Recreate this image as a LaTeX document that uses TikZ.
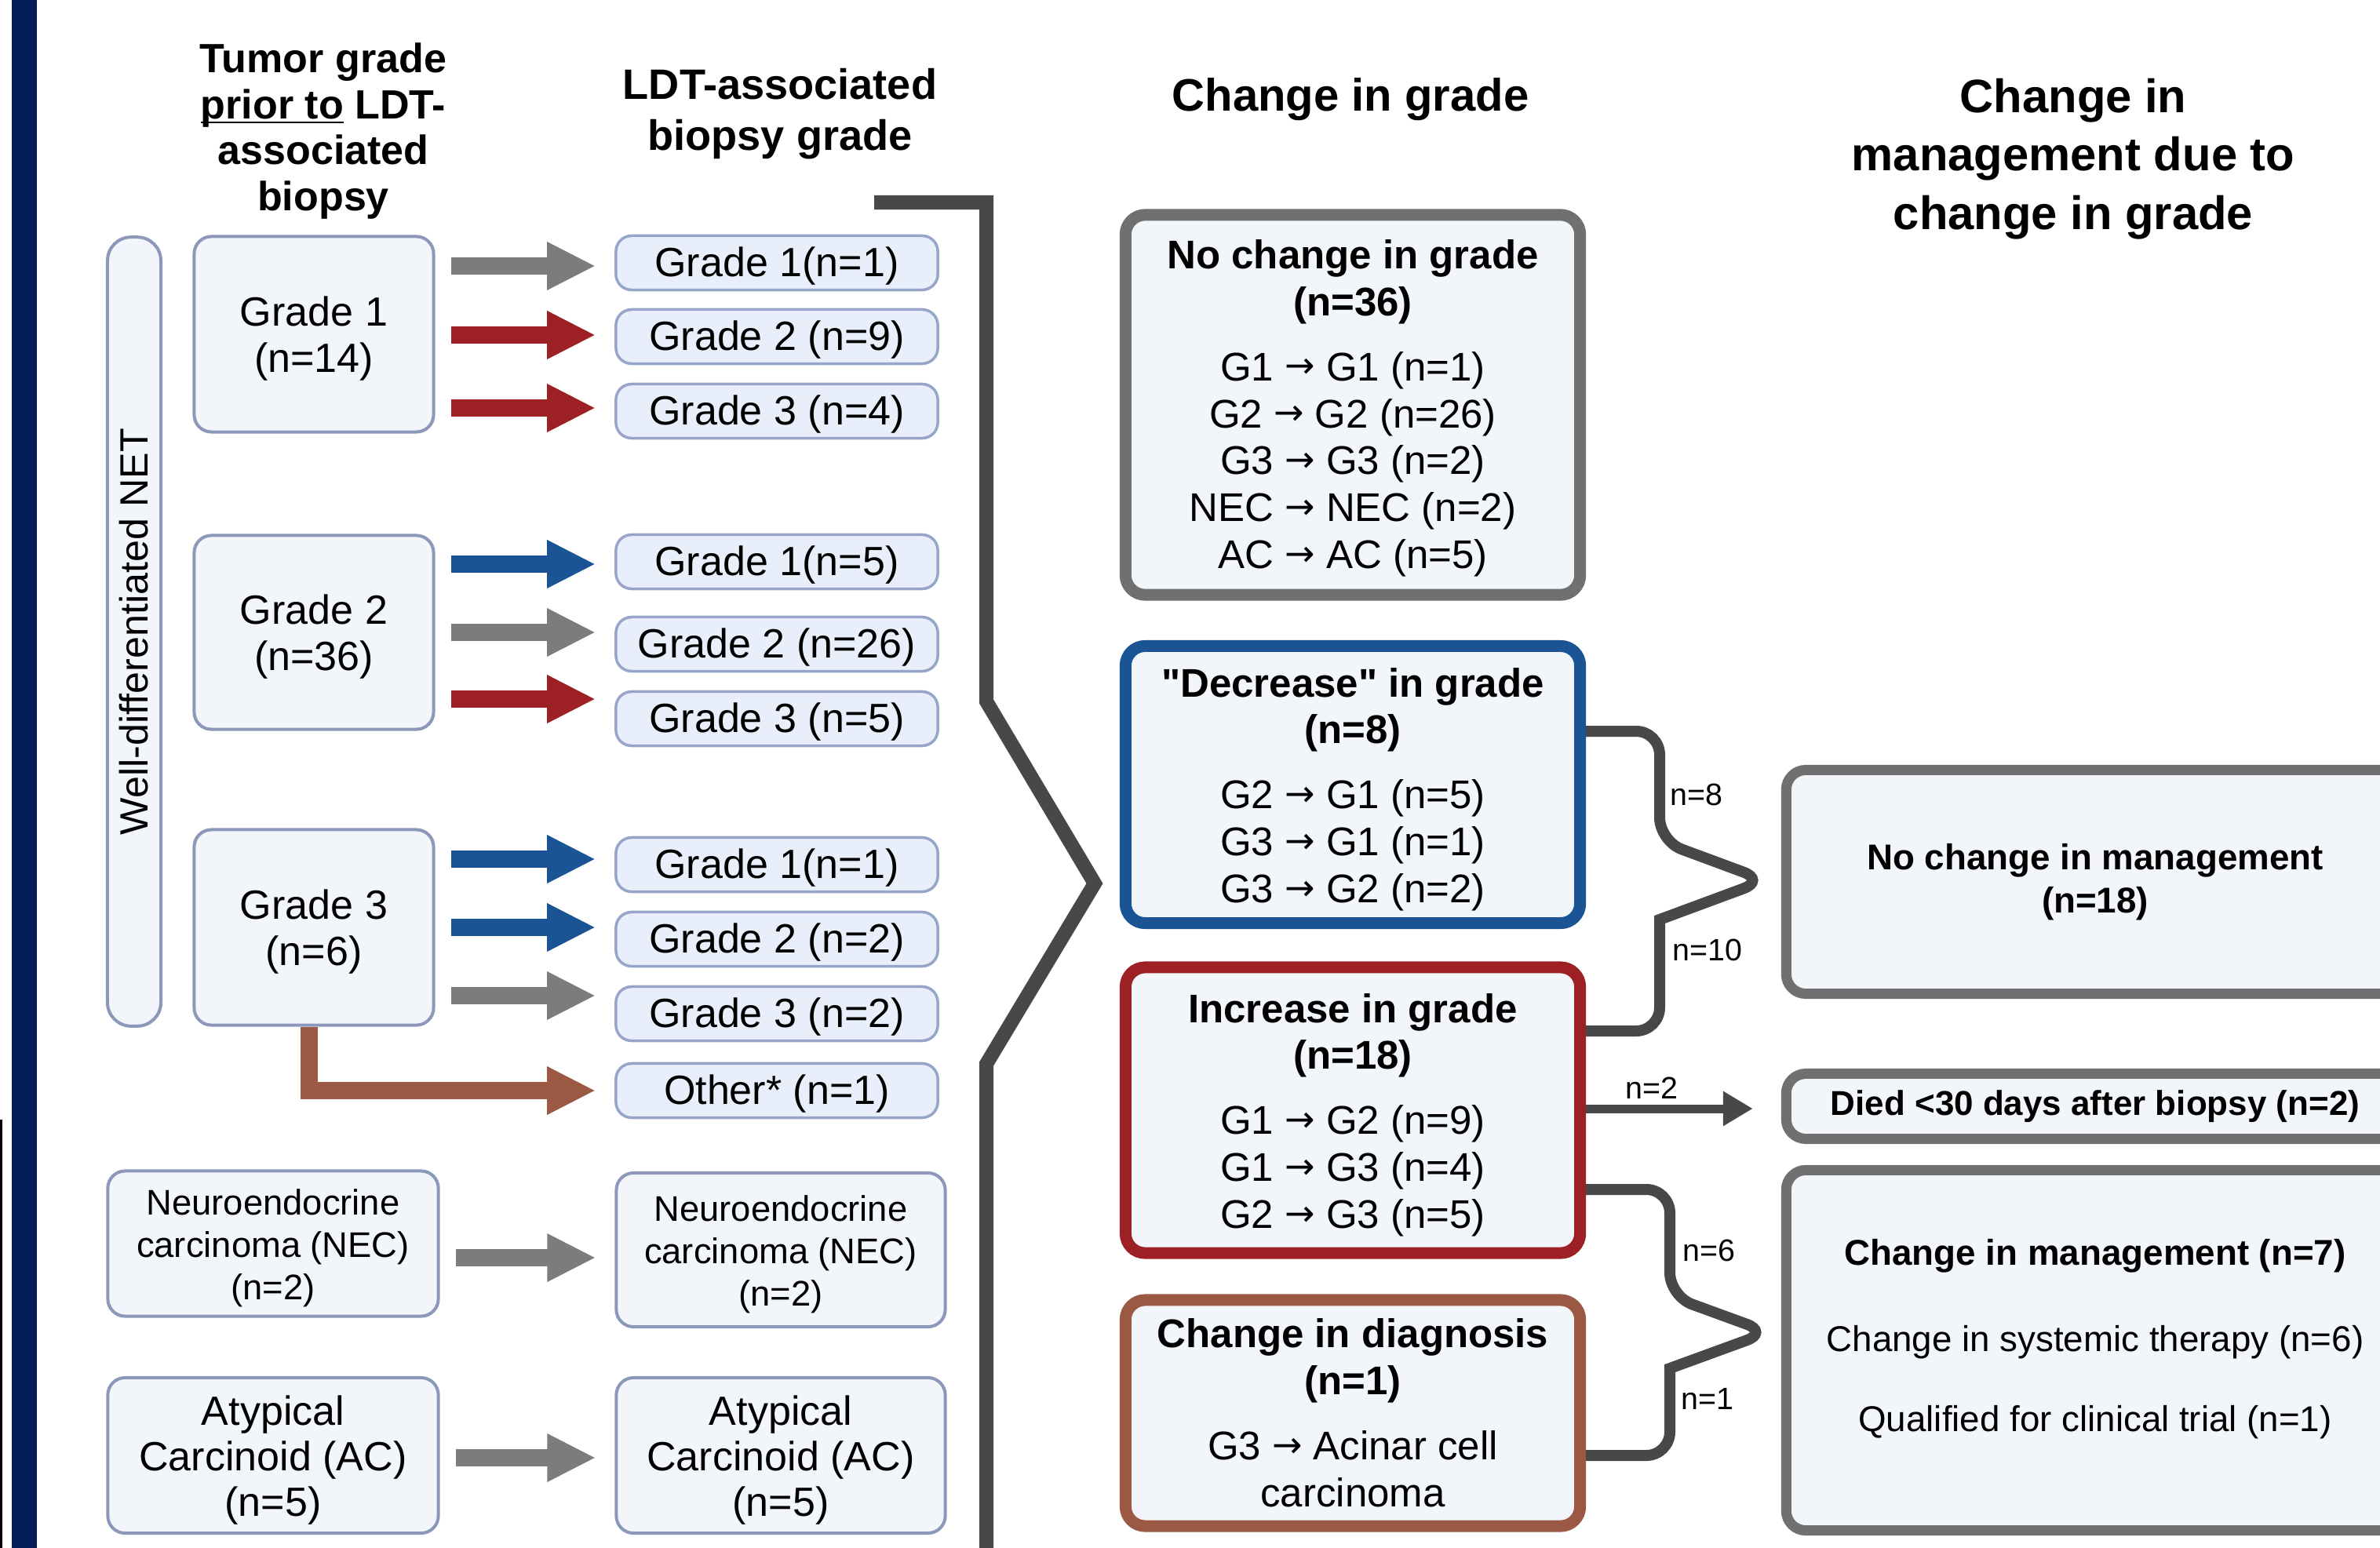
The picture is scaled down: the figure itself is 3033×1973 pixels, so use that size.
\documentclass[tikz,border=0pt]{standalone}
\usepackage{fontspec}
\setmainfont{Liberation Sans}[Ligatures=TeXOff]
\newfontfamily\arrowfont{DejaVu Sans}[Scale=0.9]
\usetikzlibrary{arrows.meta}

\newcommand\ra{\raisebox{1pt}{\arrowfont →}}
\newcommand\tg{\rule{0pt}{14pt}}

\definecolor{navy}{RGB}{4,30,88}
\definecolor{boxfill}{RGB}{242,245,250}
\definecolor{boxline}{RGB}{140,152,186}
\definecolor{tagfill}{RGB}{232,239,251}
\definecolor{tagline}{RGB}{150,165,200}
\definecolor{framegray}{RGB}{112,112,112}
\definecolor{ablue}{RGB}{26,84,148}
\definecolor{ared}{RGB}{156,32,36}
\definecolor{abrown}{RGB}{155,89,68}
\definecolor{agray}{RGB}{124,124,124}
\definecolor{bracketgray}{RGB}{72,72,72}

\tikzset{
  head/.style={font=\fontsize{14.8pt}{16.7pt}\selectfont\bfseries, align=center, inner sep=0pt, anchor=north},
  bighead/.style={font=\fontsize{17pt}{21.3pt}\selectfont\bfseries, align=center, inner sep=0pt, anchor=north},
  srcbox/.style={draw=boxline, fill=boxfill, line width=0.04cm, rounded corners=0.22cm, align=center, inner sep=0pt, font=\fontsize{14.8pt}{16.8pt}\selectfont},
  tagbox/.style={draw=tagline, fill=tagfill, line width=0.035cm, rounded corners=0.2cm, minimum width=4.1cm, minimum height=0.69cm, inner sep=0pt, text height=13.3pt, text depth=3.1pt, font=\fontsize{14.8pt}{17pt}\selectfont},
  sumbox/.style={fill=boxfill, line width=0.15cm, rounded corners=0.25cm, minimum width=5.79cm, align=center, inner sep=0pt, font=\fontsize{14.5pt}{17pt}\selectfont},
  mgmtbox/.style={draw=framegray, fill=boxfill, line width=0.13cm, rounded corners=0.25cm, minimum width=7.87cm, align=center, inner sep=0pt, font=\fontsize{13pt}{15.6pt}\selectfont},
  fatarrow/.style={line width=0.22cm, -{Triangle[length=0.62cm,width=0.57cm]}, shorten <=0.2cm, shorten >=0.24cm},
  brace/.style={draw=bracketgray, line width=0.14cm, rounded corners=0.3cm},
  nlabel/.style={font=\fontsize{11.2pt}{13pt}\selectfont, inner sep=0pt},
}

\begin{document}
\begin{tikzpicture}[x=0.01cm, y=-0.01cm]
  \clip (0,0) rectangle (3033,1973);
  \fill[white] (0,0) rectangle (3033,1973);
  \fill[navy] (15,0) rectangle (47,1973);
  \fill[black] (0,1427) rectangle (3,1973);

  % column headers
  \node[head] (hprior) at (412,54) {Tumor grade\\\underline{\smash{prior to}} LDT-\\associated\\biopsy};
  \node[head, font=\fontsize{15.4pt}{18.4pt}\selectfont\bfseries] (hldt) at (994,87) {LDT-associated\\biopsy grade};
  \node[bighead, font=\fontsize{16.5pt}{20pt}\selectfont\bfseries] (hchange) at (1721,99) {Change in grade};
  \node[bighead] (hmgmt) at (2642,99) {Change in\\management due to\\change in grade};

  % grade prior to biopsy
  \node[srcbox, rotate=90, minimum width=10.05cm, minimum height=0.68cm, rounded corners=0.3cm, font=\fontsize{14.3pt}{16pt}\selectfont] (net) at (171,805) {Well-differentiated NET};
  \node[srcbox, minimum width=3.05cm, minimum height=2.49cm] (g1) at (400,426) {\tg Grade 1\\(n=14)};
  \node[srcbox, minimum width=3.05cm, minimum height=2.47cm] (g2) at (400,806) {\tg Grade 2\\(n=36)};
  \node[srcbox, minimum width=3.05cm, minimum height=2.49cm] (g3) at (400,1182) {\tg Grade 3\\(n=6)};
  \node[srcbox, minimum width=4.21cm, minimum height=1.85cm, font=\fontsize{12.9pt}{15.4pt}\selectfont] (nec) at (348,1585) {\rule{0pt}{12.5pt}Neuroendocrine\\carcinoma (NEC)\\(n=2)};
  \node[srcbox, minimum width=4.21cm, minimum height=1.98cm, font=\fontsize{14.8pt}{16.5pt}\selectfont] (ac) at (348,1855) {\tg Atypical\\Carcinoid (AC)\\(n=5)};

  % biopsy grade
  \foreach \nm/\yy/\txt in {r11/335/Grade 1(n=1), r12/429/Grade 2 (n=9), r13/524/Grade 3 (n=4),
      r21/716/Grade 1(n=5), r22/821/Grade 2 (n=26), r23/916/Grade 3 (n=5),
      r31/1102/Grade 1(n=1), r32/1197/Grade 2 (n=2), r33/1292/Grade 3 (n=2), r34/1390/Other* (n=1)}
    \node[tagbox] (\nm) at (990,\yy) {\txt};
  \node[srcbox, minimum width=4.19cm, minimum height=1.96cm, font=\fontsize{12.9pt}{15.4pt}\selectfont] (rnec) at (995,1593) {\rule{0pt}{12.5pt}Neuroendocrine\\carcinoma (NEC)\\(n=2)};
  \node[srcbox, minimum width=4.19cm, minimum height=1.98cm, font=\fontsize{14.8pt}{16.5pt}\selectfont] (rac) at (995,1855) {\tg Atypical\\Carcinoid (AC)\\(n=5)};

  % grade transitions
  \foreach \src/\dst/\yy/\col in {g1/r11/339/agray, g1/r12/427/ared, g1/r13/520/ared,
      g2/r21/719/ablue, g2/r22/806/agray, g2/r23/891/ared,
      g3/r31/1095/ablue, g3/r32/1182/ablue, g3/r33/1269/agray,
      nec/rnec/1603/agray, ac/rac/1858/agray}
    \draw[fatarrow, draw=\col] (\src.east |- 0,\yy) -- (\dst.west |- 0,\yy);
  \draw[fatarrow, draw=abrown, shorten <=0pt] (g3.south -| 394,0) |- (r34.west);

  % bracket into change in grade
  \draw[bracketgray, line width=0.18cm] (1114,258) -- (1257,258) -- (1257,894) -- (1395,1126) -- (1257,1356) -- (1257,1990);

  % change in grade
  \node[sumbox, draw=framegray, minimum height=4.84cm] (nochg) at (1724,516) {\rule{0pt}{13pt}\textbf{No change in grade}\\\textbf{(n=36)}\\[6.6pt]G1 \ra{} G1 (n=1)\\G2 \ra{} G2 (n=26)\\G3 \ra{} G3 (n=2)\\NEC \ra{} NEC (n=2)\\AC \ra{} AC (n=5)};
  \node[sumbox, draw=ablue, minimum height=3.53cm] (decr) at (1724,1000) {\tg\textbf{"Decrease" in grade}\\\textbf{(n=8)}\\[6.6pt]G2 \ra{} G1 (n=5)\\G3 \ra{} G1 (n=1)\\G3 \ra{} G2 (n=2)};
  \node[sumbox, draw=ared, minimum height=3.64cm] (incr) at (1724,1415) {\tg\textbf{Increase in grade}\\\textbf{(n=18)}\\[6.6pt]G1 \ra{} G2 (n=9)\\G1 \ra{} G3 (n=4)\\G2 \ra{} G3 (n=5)};
  \node[sumbox, draw=abrown, minimum height=2.88cm] (diag) at (1724,1801) {\textbf{Change in diagnosis}\\\textbf{(n=1)}\\[6.6pt]G3 \ra{} Acinar cell\\carcinoma};

  % change in management
  \node[mgmtbox, minimum height=2.85cm] (nomgmt) at (2670,1124) {\textbf{No change in management}\\\textbf{(n=18)}};
  \node[mgmtbox, minimum height=0.83cm, font=\fontsize{12.5pt}{15pt}\selectfont\bfseries] (died) at (2670,1410) {Died <30 days after biopsy (n=2)};
  \node[mgmtbox, minimum height=4.59cm] (chgmgmt) at (2670,1721) {\textbf{Change in management (n=7)}\\[15.7pt]Change in systemic therapy (n=6)\\[13.4pt]Qualified for clinical trial (n=1)\rule[-10.6pt]{0pt}{1pt}};

  % braces to management
  \coordinate (tipA) at (2250,1122);
  \coordinate (tipB) at (2254,1698);
  \draw[brace] (decr.east |- 0,932) -- (2115,932) -- (2115,1072) -- (tipA) [sharp corners] -- (2115,1172) [rounded corners=0.3cm] -- (2115,1314) -- (incr.east |- 0,1314);
  \draw[brace] (incr.east |- 0,1516) -- (2128,1516) -- (2128,1652) -- (tipB) [sharp corners] -- (2128,1744) [rounded corners=0.3cm] -- (2128,1855) -- (diag.east |- 0,1855);
  \draw[bracketgray, line width=0.11cm, -{Triangle[length=0.38cm,width=0.42cm]}, shorten >=0.36cm] (incr.east |- 0,1413) -- (died.west |- 0,1413);
  \node[nlabel] (l8) at (2162,1013) {n=8};
  \node[nlabel] (l10) at (2176,1211) {n=10};
  \node[nlabel] (l2) at (2105,1387) {n=2};
  \node[nlabel] (l6) at (2178,1594) {n=6};
  \node[nlabel] (l1) at (2176,1783) {n=1};
\end{tikzpicture}
\end{document}
